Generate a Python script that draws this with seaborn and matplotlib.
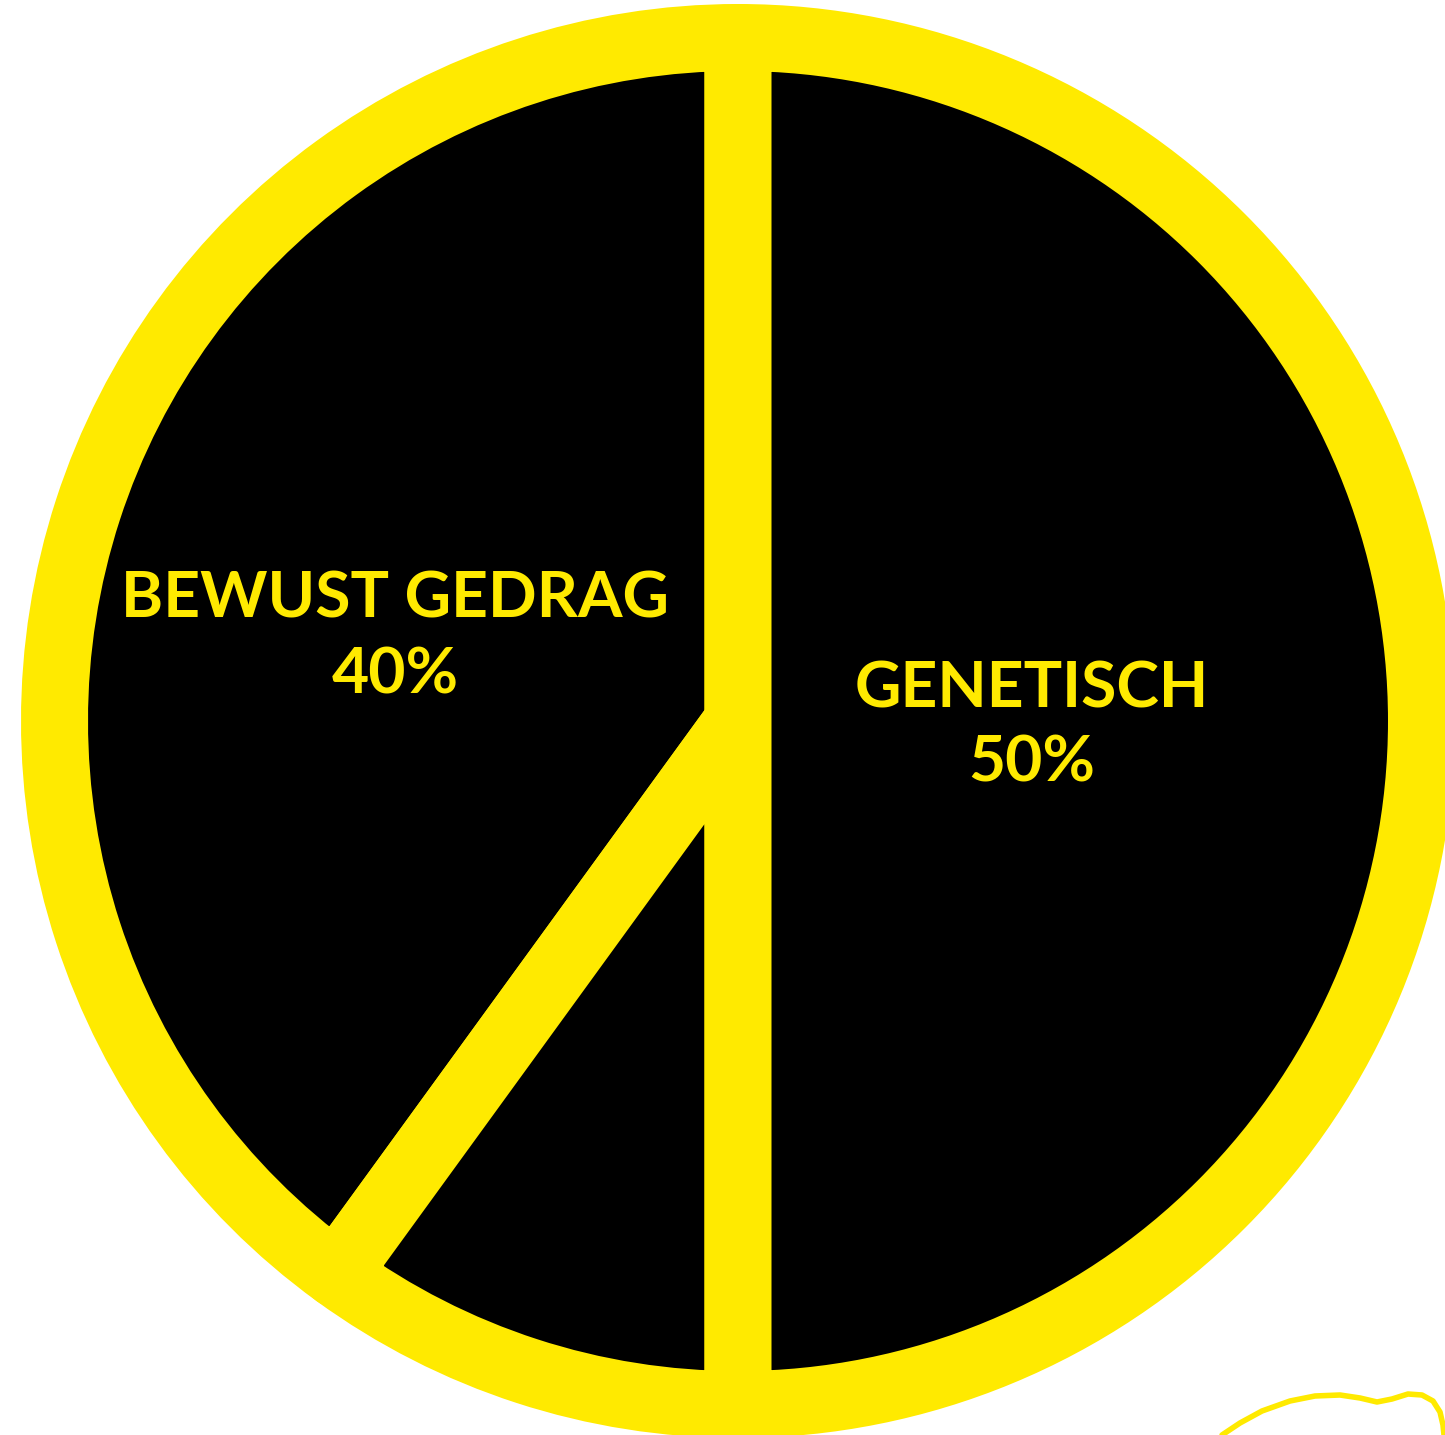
import matplotlib
matplotlib.use("Agg")
import matplotlib.pyplot as plt
from matplotlib.patches import Circle
import seaborn as sns

# data
labels = ["BEWUST GEDRAG", "", "GENETISCH"]
values = [40, 10, 50]
# where the text of each labelled slice sits (pixels, y from bottom)
label_pos = {"BEWUST GEDRAG": (395, 817), "GENETISCH": (1032, 728)}

yellow = "#FFEA00"

sns.set_theme(style="white")
plt.rcParams["font.family"] = ["Lato", "DejaVu Sans"]

fig = plt.figure(figsize=(14.45, 14.35), dpi=100)
ax = fig.add_axes([0, 0, 1, 1])

# black wedges with a thick yellow edge -> yellow ring and yellow dividers
edge_px = 67
r = 683.5
c = (738, 714)
wedges, _ = ax.pie(values, startangle=90, counterclock=True, colors=["black"] * 3,
                   radius=r, center=c,
                   wedgeprops=dict(edgecolor=yellow, linewidth=edge_px * 72 / 100,
                                   joinstyle="round"))
# keep the corners inside the outer ring
clip = Circle(c, r + edge_px / 2, transform=ax.transData)
for w in wedges:
    w.set_clip_path(clip)

for lab, v in zip(labels, values):
    if not lab:
        continue
    x, y = label_pos[lab]
    ax.text(x, y, lab, color=yellow, fontsize=46.2, fontweight="bold",
            ha="center", va="baseline")
    ax.text(x, y - 75, f"{v}%", color=yellow, fontsize=46.2, fontweight="bold",
            ha="center", va="baseline")

# little decorative squiggle bottom right
sq_x = [1222, 1240, 1262, 1290, 1315, 1340, 1360, 1377, 1392, 1408, 1422, 1433, 1440, 1443, 1444]
sq_y = [0, 12, 24, 34, 39, 40, 37, 33, 36, 41, 40, 34, 23, 10, 0]
ax.plot(sq_x, sq_y, color=yellow, lw=4, solid_capstyle="round",
        solid_joinstyle="round")

ax.set_xlim(0, 1445)
ax.set_ylim(0, 1435)
ax.set_aspect("equal")
ax.axis("off")

fig.savefig("out.png", dpi=100, facecolor="white")
